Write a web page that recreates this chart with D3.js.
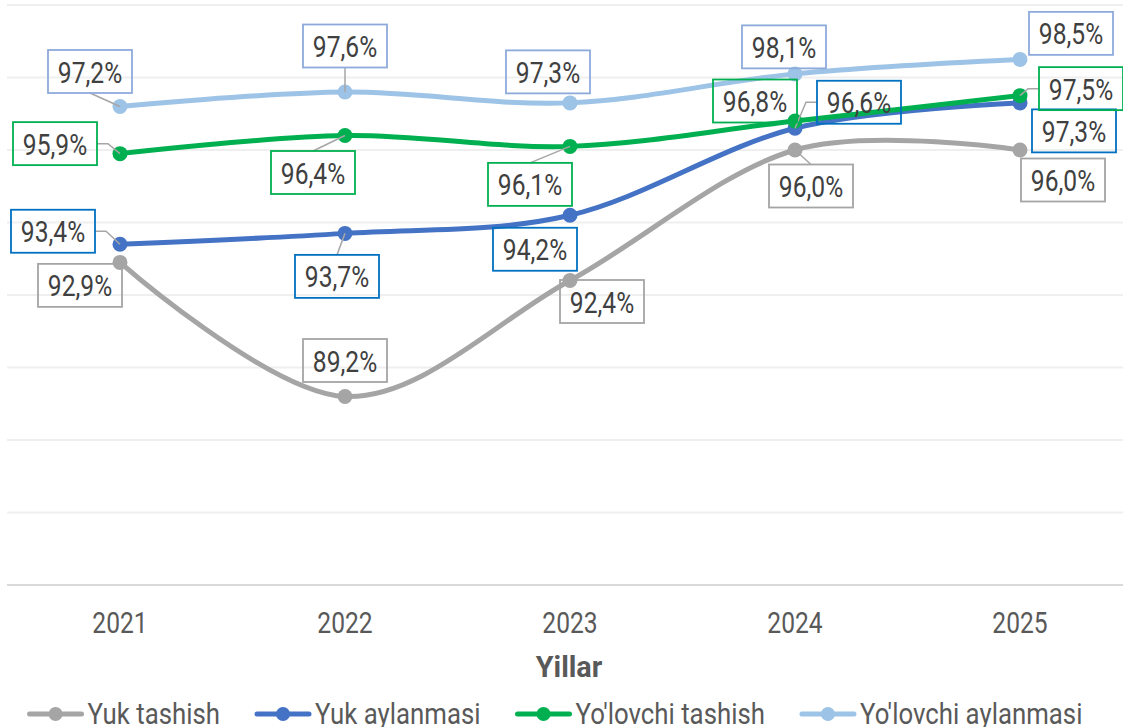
<!DOCTYPE html>
<html>
<head>
<meta charset="utf-8">
<script src="https://cdn.jsdelivr.net/npm/d3@7"></script>
<style>
  body { margin: 0; background: #fff; }
  svg { display: block; font-family: Roboto, "Noto Sans", sans-serif; }
</style>
</head>
<body>
<svg width="1123" height="727"></svg>
<script>
// data
var years = ["2021", "2022", "2023", "2024", "2025"];
var seriesNames = ["Yuk tashish", "Yuk aylanmasi", "Yo'lovchi tashish", "Yo'lovchi aylanmasi"];
var yukTashish = [92.9, 89.2, 92.4, 96.0, 96.0];
var yukAylanmasi = [93.4, 93.7, 94.2, 96.6, 97.3];
var yolovchiTashish = [95.9, 96.4, 96.1, 96.8, 97.5];
var yolovchiAylanmasi = [97.2, 97.6, 97.3, 98.1, 98.5];
var yTicks = [84, 86, 88, 90, 92, 94, 96, 98, 100];

// styles
var lineColors = ["#a5a5a5", "#4472c4", "#00b050", "#9dc3e6"];
var boxColors = ["#a5a5a5", "#0070c0", "#00b050", "#8eaadb"];

// label placement (box centre offset from point, leader line on/off), set by hand like in the original
var labelLayout = [
  [[-40, 23, 0], [0, -36, 0], [32, 21, 0], [16, 36, 1], [43, 30, 0]],
  [[-67, -13, 1], [-8, 43, 1], [-35, 34, 0], [64, -26, 1], [54, 28, 0]],
  [[-65, -10, 1], [-32, 37, 1], [-40, 38, 1], [-40, -20, 0], [61, -7, 1]],
  [[-30, -35, 1], [0, -46, 1], [-22, -31, 0], [-11, -27, 0], [51, -26, 0]]
];

var allSeries = [yukTashish, yukAylanmasi, yolovchiTashish, yolovchiAylanmasi];

var svg = d3.select("svg");
var sx = 0.82; // squeeze the text horizontally, closer to a condensed face
var fmt = function(v) { return d3.format(".1f")(v).replace(".", ",") + "%"; };

var x = d3.scalePoint()
  .domain(years)
  .range([7.5, 1132.5])
  .padding(0.5);

var y = d3.scaleLinear()
  .domain([84, 100])
  .range([585, 5]);

function sText(sel, px, py, str, size, anchor, color, weight, scale) {
  return sel.append("text")
    .attr("transform", "translate(" + px + "," + py + ") scale(" + (scale || sx) + ",1)")
    .attr("text-anchor", anchor || "middle")
    .attr("font-size", size)
    .attr("font-weight", weight || "normal")
    .attr("fill", color)
    .text(str);
}

// gridlines
svg.append("g")
  .selectAll("line")
  .data(yTicks)
  .enter().append("line")
    .attr("x1", 7)
    .attr("x2", 1133)
    .attr("y1", function(d) { return y(d); })
    .attr("y2", function(d) { return y(d); })
    .attr("stroke", function(d) { return d == 84 ? "#d9d9d9" : "#efefef"; })
    .attr("stroke-width", 2);

// x tick labels
var ticks = svg.append("g");
years.forEach(function(yr) {
  sText(ticks, x(yr), 633, yr, 30, "middle", "#595959");
});
sText(svg, 569, 677, "Yillar", 30, "middle", "#595959", "bold", 0.96);

// lines
var line = d3.line()
  .x(function(d, i) { return x(years[i]); })
  .y(function(d) { return y(d); })
  .curve(d3.curveCardinal.tension(0));

allSeries.forEach(function(s, k) {
  var g = svg.append("g");
  g.append("path")
    .attr("d", line(s))
    .attr("fill", "none")
    .attr("stroke", lineColors[k])
    .attr("stroke-width", 5)
    .attr("stroke-linecap", "round");
  g.selectAll("circle")
    .data(s)
    .enter().append("circle")
      .attr("cx", function(d, i) { return x(years[i]); })
      .attr("cy", function(d) { return y(d); })
      .attr("r", 7.5)
      .attr("fill", lineColors[k]);
});

// data labels
var bw = 84, bh = 43;
var labels = svg.append("g");
allSeries.forEach(function(s, k) {
  s.forEach(function(v, i) {
    var px = x(years[i]), py = y(v);
    var L = labelLayout[k][i];
    var cx = px + L[0], cy = py + L[1];
    var x0 = cx - bw / 2, x1 = cx + bw / 2, y0 = cy - bh / 2, y1 = cy + bh / 2;
    if (L[2]) {
      var pts;
      if (px > x1) pts = [[x1, cy], [x1 + 11, cy], [px, py]];
      else if (px < x0) pts = [[x0, cy], [x0 - 11, cy], [px, py]];
      else if (py > y1) pts = [[cx, y1], [px, py]];
      else pts = [[cx, y0], [px, py]];
      labels.append("path")
        .attr("d", d3.line()(pts))
        .attr("fill", "none")
        .attr("stroke", "#a6a6a6")
        .attr("stroke-width", 1.5);
    }
    labels.append("rect")
      .attr("x", x0)
      .attr("y", y0)
      .attr("width", bw)
      .attr("height", bh)
      .attr("fill", "none")
      .attr("stroke", boxColors[k])
      .attr("stroke-width", 1.8);
    sText(labels, cx, cy + 11, fmt(v), 30, "middle", "#404040");
  });
});

// legend
var lsx = 0.86;
var legend = svg.append("g");
var items = seriesNames.map(function(name, k) {
  var t = sText(legend, 0, 724, name, 30, "start", "#595959", "normal", lsx);
  return { t: t, w: t.node().getComputedTextLength() * lsx, k: k };
});
var total = d3.sum(items, function(d) { return 60 + d.w; }) + 35 * (items.length - 1);
var lx = 555 - total / 2;
items.forEach(function(d) {
  legend.append("line")
    .attr("x1", lx + 2)
    .attr("x2", lx + 54)
    .attr("y1", 714)
    .attr("y2", 714)
    .attr("stroke", lineColors[d.k])
    .attr("stroke-width", 5)
    .attr("stroke-linecap", "round");
  legend.append("circle")
    .attr("cx", lx + 28)
    .attr("cy", 714)
    .attr("r", 7)
    .attr("fill", lineColors[d.k]);
  d.t.attr("transform", "translate(" + (lx + 60) + ",724) scale(" + lsx + ",1)");
  lx += 60 + d.w + 35;
});
</script>
</body>
</html>
